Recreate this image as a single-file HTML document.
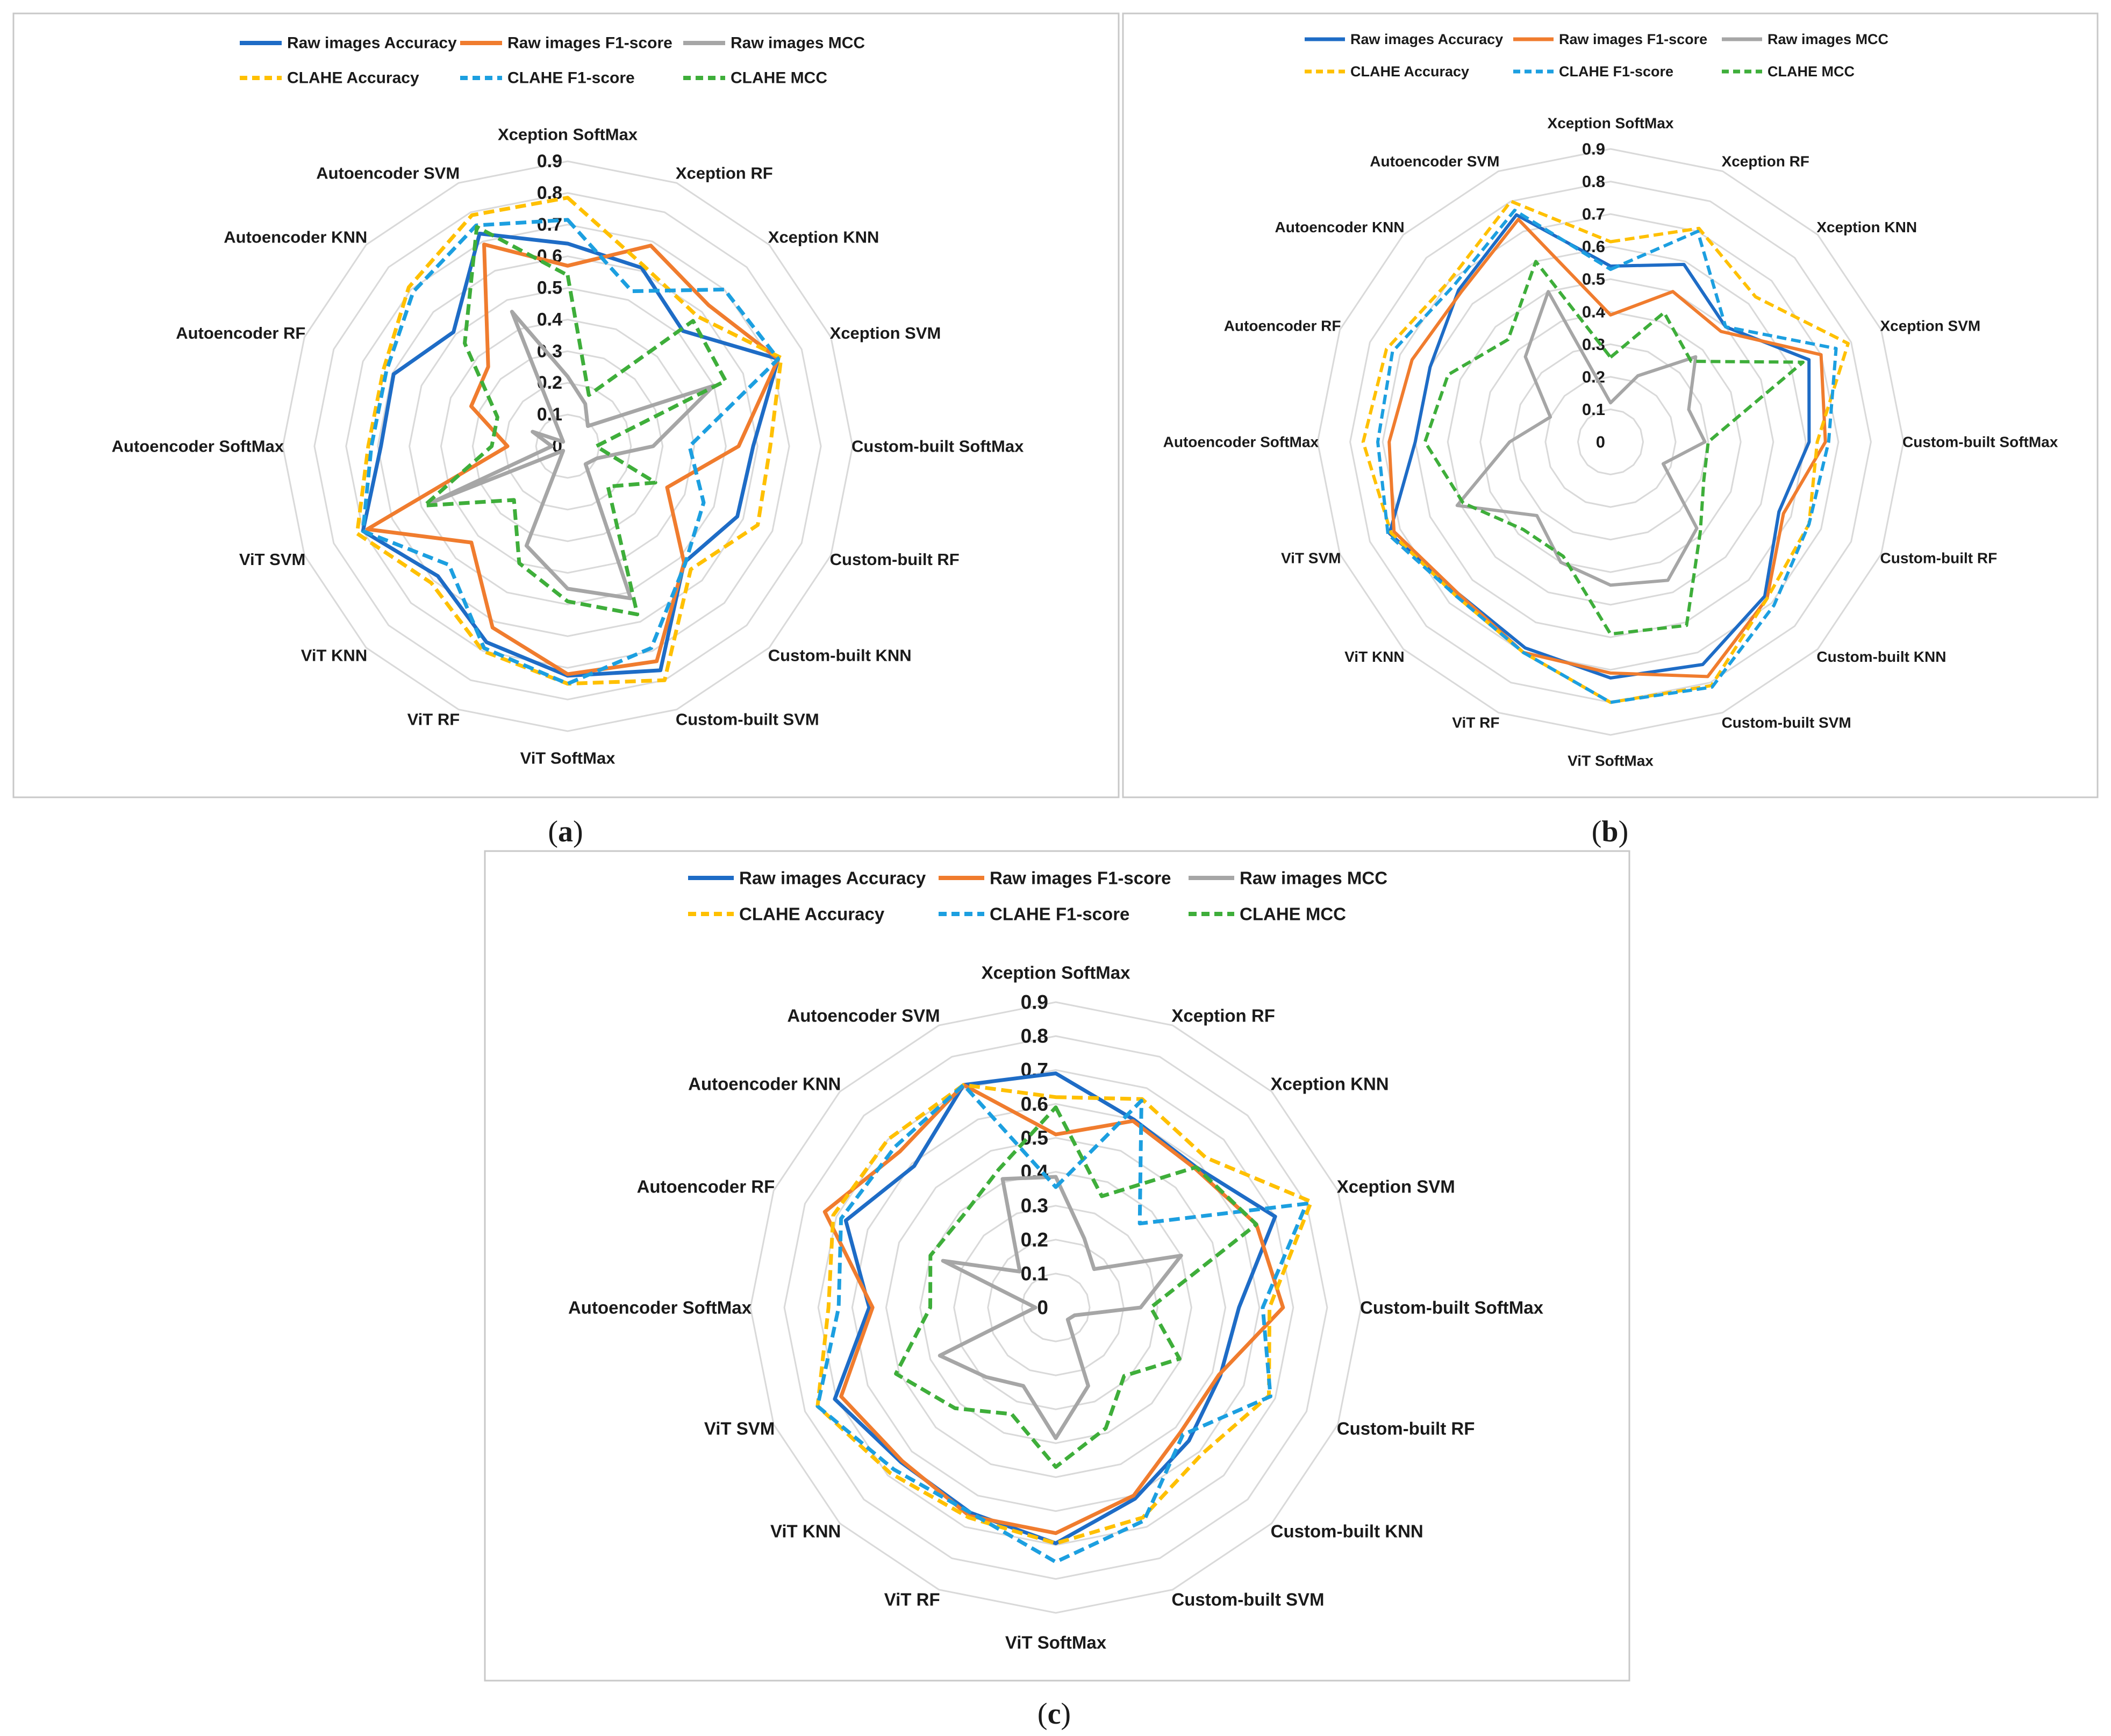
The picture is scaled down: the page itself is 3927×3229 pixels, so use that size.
<!DOCTYPE html>
<html><head><meta charset="utf-8">
<style>
html,body{margin:0;padding:0;background:#fff;}
svg{display:block;}
text{font-family:"Liberation Sans",sans-serif;font-weight:bold;fill:#1a1a1a;}
</style></head>
<body>
<svg id="fig" width="3927" height="3229" viewBox="0 0 3927 3229" xmlns="http://www.w3.org/2000/svg">
<rect x="0" y="0" width="3927" height="3229" fill="#fff"/>
<rect x="25" y="25" width="2056" height="1458" fill="none" stroke="#c8c8c8" stroke-width="3"/>
<rect x="2089" y="25" width="1813" height="1458" fill="none" stroke="#c8c8c8" stroke-width="3"/>
<rect x="902" y="1583" width="2129" height="1543" fill="none" stroke="#c8c8c8" stroke-width="3"/>
<text x="1052" y="1565" text-anchor="middle" style="font-family:'Liberation Serif',serif;font-weight:normal;font-size:56px">(<tspan font-weight="bold">a</tspan>)</text>
<text x="2995" y="1565" text-anchor="middle" style="font-family:'Liberation Serif',serif;font-weight:normal;font-size:56px">(<tspan font-weight="bold">b</tspan>)</text>
<text x="1961" y="3206" text-anchor="middle" style="font-family:'Liberation Serif',serif;font-weight:normal;font-size:56px">(<tspan font-weight="bold">c</tspan>)</text>
</svg>
<script>
const categories=["Xception SoftMax","Xception RF","Xception KNN","Xception SVM","Custom-built SoftMax","Custom-built RF","Custom-built KNN","Custom-built SVM","ViT SoftMax","ViT RF","ViT KNN","ViT SVM","Autoencoder SoftMax","Autoencoder RF","Autoencoder KNN","Autoencoder SVM"];
const tickValues=[0,0.1,0.2,0.3,0.4,0.5,0.6,0.7,0.8,0.9];
const seriesNames=["Raw images Accuracy","Raw images F1-score","Raw images MCC","CLAHE Accuracy","CLAHE F1-score","CLAHE MCC"];

const aRawAcc=[.64,.61,.515,.72,.586,.58,.52,.766,.725,.67,.58,.70,.59,.595,.51,.727];
const aRawF1=[.57,.686,.63,.72,.54,.34,.52,.735,.72,.62,.43,.685,.19,.33,.355,.69];
const aRawMCC=[.22,.145,.09,.50,.27,.10,.08,.52,.45,.34,.02,.47,.05,.12,.02,.46];
const aClaAcc=[.785,.62,.58,.73,.64,.65,.55,.80,.75,.70,.61,.72,.63,.63,.71,.79];
const aClaF1=[.715,.53,.70,.72,.385,.465,.525,.69,.75,.69,.53,.70,.62,.62,.69,.755];
const aClaMCC=[.54,.175,.56,.54,.09,.30,.18,.575,.49,.40,.24,.49,.24,.24,.46,.75];

const bRawAcc=[.54,.59,.50,.66,.61,.56,.67,.74,.725,.685,.66,.735,.60,.60,.66,.755];
const bRawF1=[.39,.50,.48,.70,.66,.575,.68,.78,.71,.70,.66,.72,.68,.66,.65,.74];
const bRawMCC=[.12,.22,.37,.26,.29,.175,.375,.46,.44,.40,.32,.51,.31,.20,.37,.50];
const bClaAcc=[.615,.71,.63,.79,.635,.66,.68,.81,.80,.70,.67,.73,.76,.745,.70,.80];
const bClaF1=[.53,.70,.50,.75,.67,.66,.71,.815,.80,.70,.67,.74,.715,.725,.68,.77];
const bClaMCC=[.26,.43,.35,.64,.30,.31,.39,.61,.59,.38,.38,.49,.57,.54,.445,.60];

const cRawAcc=[.69,.60,.585,.70,.54,.525,.555,.61,.695,.655,.645,.705,.55,.67,.59,.71];
const cRawF1=[.51,.595,.58,.64,.67,.52,.52,.60,.665,.665,.64,.685,.54,.737,.65,.71];
const cRawMCC=[.385,.22,.16,.40,.25,.06,.05,.25,.385,.25,.29,.37,.06,.36,.15,.41];
const cClaAcc=[.62,.665,.625,.815,.63,.68,.61,.67,.695,.67,.69,.76,.67,.71,.70,.71];
const cClaF1=[.355,.66,.35,.80,.61,.685,.53,.68,.75,.655,.675,.76,.64,.685,.67,.71];
const cClaMCC=[.59,.355,.585,.64,.28,.395,.285,.385,.47,.34,.42,.51,.37,.40,.385,.44];

const NS="http://www.w3.org/2000/svg";
const svg=document.getElementById("fig");
const colors=["#1e6cc6","#f07c2e","#a6a6a6","#ffc000","#1c9fe0","#3eae3a"];
const dashed=[false,false,false,true,true,true];
function mk(tag,parent){const e=document.createElementNS(NS,tag);parent.appendChild(e);return e;}

function drawPanel(key,cfg,data){
  const g=mk("g",svg);
  
  
  const n=categories.length, maxV=0.9;
  const ang=i=>i*2*Math.PI/n;
  const px=(i,v)=>cfg.cx+Math.sin(ang(i))*cfg.R*v/maxV;
  const py=(i,v)=>cfg.cy-Math.cos(ang(i))*cfg.R*v/maxV;
  for(let t=1;t<tickValues.length;t++){
    const v=tickValues[t];
    const p=mk("polygon",g);
    p.setAttribute('points',categories.map((c,i)=>px(i,v).toFixed(1)+","+py(i,v).toFixed(1)).join(" "));
    p.setAttribute('fill','none');p.setAttribute('stroke','#d9d9d9');p.setAttribute('stroke-width','3');
    
    
  }
  categories.forEach((c,i)=>{
    const s=Math.sin(ang(i)),co=Math.cos(ang(i));
    const vx=px(i,maxV),vy=py(i,maxV);
    const t=mk("text",g);
    t.textContent=c;
    t.setAttribute('font-size',cfg.fs);
    t.setAttribute('dominant-baseline','central');
    if(Math.abs(s)<0.1){
      t.setAttribute('text-anchor','middle');t.setAttribute('x',vx);t.setAttribute('y',vy-co*cfg.tb);
    }else{
      t.setAttribute('text-anchor',s>0?'start':'end');t.setAttribute('x',vx+(s>0?-2:2));t.setAttribute('y',vy-co*20);
    }
    
    
  });
  tickValues.forEach(v=>{
    const t=mk("text",g);
    t.textContent=String(v);
    t.setAttribute('font-size',cfg.tfs);
    t.setAttribute('text-anchor','end');
    t.setAttribute('dominant-baseline','central');
    t.setAttribute('x',cfg.cx-cfg.toff);t.setAttribute('y',py(0,v));
    
    
  });
  data.forEach((vals,k)=>{
    const p=mk("polygon",g);
    p.setAttribute('points',vals.map((v,i)=>px(i,v).toFixed(1)+","+py(i,v).toFixed(1)).join(" "));
    p.setAttribute('fill','none');p.setAttribute('stroke',colors[k]);p.setAttribute('stroke-width',cfg.lw);
    p.setAttribute('stroke-linejoin','round');
    if(dashed[k])p.setAttribute('stroke-dasharray',cfg.dash);
    
    
  });
  seriesNames.forEach((nm,k)=>{
    const col=k%3,row=Math.floor(k/3);
    const lx=cfg.lx[col],ly=cfg.ly[row];
    const lg=mk("g",g);
    
    
    const l=mk("line",lg);
    l.setAttribute('x1',lx);l.setAttribute('x2',lx+cfg.ll);l.setAttribute('y1',ly);l.setAttribute('y2',ly);
    l.setAttribute('stroke',colors[k]);l.setAttribute('stroke-width',cfg.lw+1);
    if(dashed[k])l.setAttribute('stroke-dasharray',cfg.ldash);
    
    
    const t=mk("text",lg);
    t.textContent=nm;
    t.setAttribute('x',lx+cfg.ll+10);t.setAttribute('y',ly);
    t.setAttribute('font-size',cfg.lfs);t.setAttribute('dominant-baseline','central');
    
    
  });
}

drawPanel('a',{cx:1056,cy:830,R:530,fs:31,tfs:34,toff:10,tb:50,lw:7,dash:"20 10",lx:[446,856,1271],ly:[80,145],ll:78,lfs:30,ldash:"14 9"},
  [aRawAcc,aRawF1,aRawMCC,aClaAcc,aClaF1,aClaMCC]);
drawPanel('b',{cx:2996,cy:822,R:545,fs:28,tfs:31,toff:10,tb:48,lw:6,dash:"18 9",lx:[2427,2815,3203],ly:[73,133],ll:75,lfs:27,ldash:"13 8"},
  [bRawAcc,bRawF1,bRawMCC,bClaAcc,bClaF1,bClaMCC]);
drawPanel('c',{cx:1964,cy:2432,R:568,fs:33,tfs:37,toff:14,tb:55,lw:7,dash:"20 10",lx:[1280,1746,2211],ly:[1633,1700],ll:85,lfs:33,ldash:"15 9"},
  [cRawAcc,cRawF1,cRawMCC,cClaAcc,cClaF1,cClaMCC]);
</script>
</body></html>
